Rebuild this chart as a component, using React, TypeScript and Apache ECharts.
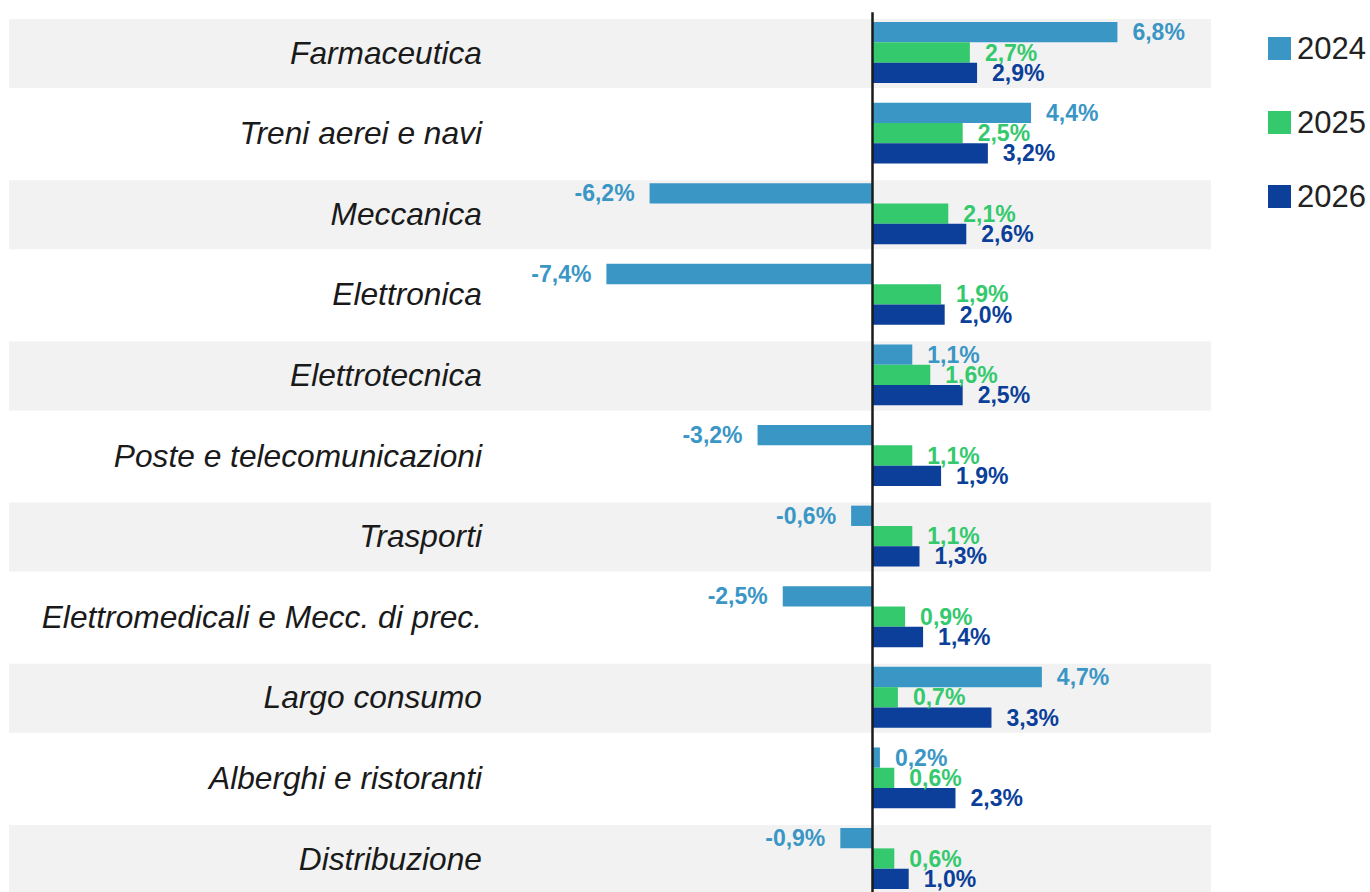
import React, { useEffect, useRef } from "react";
import * as echarts from "echarts";

const categories = [
  "Farmaceutica",
  "Treni aerei e navi",
  "Meccanica",
  "Elettronica",
  "Elettrotecnica",
  "Poste e telecomunicazioni",
  "Trasporti",
  "Elettromedicali e Mecc. di prec.",
  "Largo consumo",
  "Alberghi e ristoranti",
  "Distribuzione",
];
const seriesNames = ["2024", "2025", "2026"];
const values2024 = [6.8, 4.4, -6.2, -7.4, 1.1, -3.2, -0.6, -2.5, 4.7, 0.2, -0.9];
const values2025 = [2.7, 2.5, 2.1, 1.9, 1.6, 1.1, 1.1, 0.9, 0.7, 0.6, 0.6];
const values2026 = [2.9, 3.2, 2.6, 2.0, 2.5, 1.9, 1.3, 1.4, 3.3, 2.3, 1.0];
const bandRows = [0, 2, 4, 6, 8, 10];

const colors = ["#3A96C5", "#35C96E", "#0B3F99"];
const FONT = "'Liberation Sans', Arial, Helvetica, sans-serif";

const fmt = (v: number) => v.toFixed(1).replace(".", ",") + "%";

export default function App() {
  const ref = useRef<HTMLDivElement>(null);
  useEffect(() => {
    if (!ref.current) return;
    const chart = echarts.init(ref.current, undefined, { renderer: "svg" });
    const allValues = [values2024, values2025, values2026];
    const barSeries = seriesNames.map((name, i) => ({
      name,
      type: "bar",
      barWidth: 20.3,
      barGap: "0%",
      z: 3,
      itemStyle: { color: colors[i] },
      label: {
        show: true,
        distance: 15,
        fontSize: 23,
        fontWeight: "bold",
        fontFamily: FONT,
        color: colors[i],
        formatter: (p: any) => fmt(p.value),
      },
      data: allValues[i].map((v) => ({
        value: v,
        label: { position: v < 0 ? "left" : "right" },
      })),
      ...(i === 0
        ? {
            markLine: {
              silent: true,
              symbol: ["none", "none"],
              label: { show: false },
              lineStyle: { color: "#1a1a1a", width: 2.5, type: "solid" },
              data: [{ xAxis: 0 }],
              z: 10,
            },
          }
        : {}),
    }));

    const bandSeries = {
      type: "custom",
      silent: true,
      z: 0,
      encode: { x: 0, y: 1 },
      data: bandRows.map((r) => [0, r]),
      renderItem: (params: any, api: any) => {
        const c = api.coord([0, api.value(1)]);
        const cs = params.coordSys;
        return {
          type: "rect",
          shape: { x: cs.x, y: c[1] - 33.5, width: cs.width, height: 69 },
          style: { fill: "#F2F2F2" },
        };
      },
    };

    chart.setOption({
      animation: false,
      backgroundColor: "#ffffff",
      grid: { left: 9, top: 12.2, width: 1202, height: 886.6, containLabel: false },
      xAxis: {
        type: "value",
        min: -24,
        max: 9.4,
        show: false,
      },
      yAxis: {
        type: "category",
        data: categories,
        inverse: true,
        z: 6,
        axisLine: { show: false },
        axisTick: { show: false },
        splitLine: { show: false },
        axisLabel: {
          interval: 0,
          margin: -473,
          align: "right",
          fontSize: 31.7,
          fontStyle: "italic",
          fontFamily: FONT,
          color: "#1a1a1a",
        },
      },
      legend: {
        data: seriesNames,
        orient: "vertical",
        left: 1263,
        top: 28,
        itemWidth: 23,
        itemHeight: 23,
        itemGap: 43,
        icon: "rect",
        textStyle: {
          fontSize: 31,
          fontFamily: FONT,
          color: "#222222",
          lineHeight: 23,
          padding: [0, 0, 0, 1],
        },
      },
      series: [bandSeries, ...barSeries],
    });
    return () => chart.dispose();
  }, []);
  return (
    <div
      ref={ref}
      style={{ position: "fixed", left: 0, top: 0, width: 1370, height: 920, background: "#fff" }}
    />
  );
}
